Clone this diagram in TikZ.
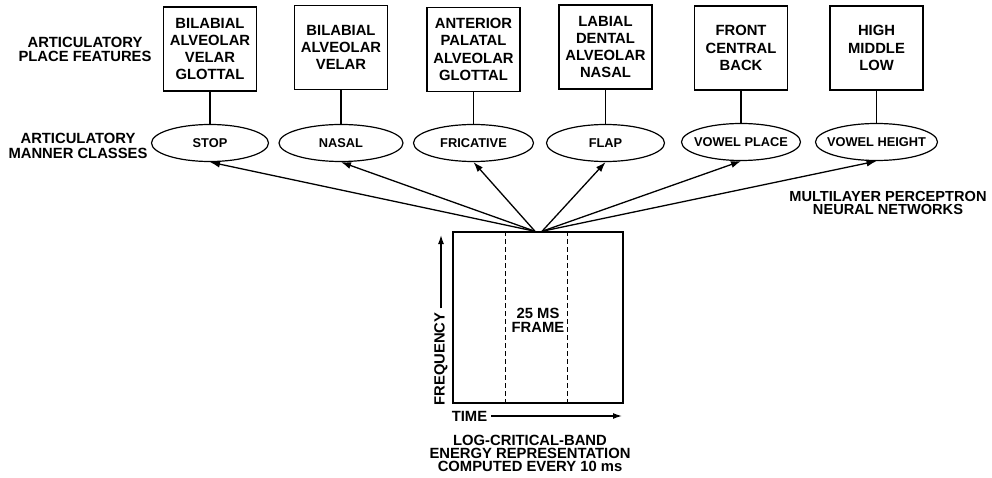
\documentclass[tikz,border=0pt]{standalone}
\usepackage{fontspec}
\setmainfont{Liberation Sans}
\usetikzlibrary{shapes.geometric,arrows.meta}
\newcommand\mk[1]{\makebox[0pt]{#1}}
\begin{document}
\begin{tikzpicture}[x=1pt,y=-1pt,
  lbl/.style={font=\bfseries\fontsize{14.8}{14}\selectfont, align=center, inner sep=0pt},
  featbox/.style={draw, line width=1.4pt, minimum width=93pt, minimum height=84pt,
    font=\bfseries\fontsize{14.8}{17.3}\selectfont, align=center, inner sep=0pt},
  manner/.style={draw, ellipse, line width=1.2pt, minimum height=37pt, inner sep=0pt,
    font=\bfseries\fontsize{12.8}{14}\selectfont},
  link/.style={line width=1.6pt},
  arr/.style={line width=1.3pt, -{Latex[length=10pt,width=7pt]}},
]
\useasboundingbox (0,0) rectangle (992,478);

% place feature boxes
\node[featbox] (b1) at (210,49)   {BILABIAL\\ALVEOLAR\\VELAR\\GLOTTAL};
\node[featbox] (b2) at (341,47.5) {BILABIAL\\ALVEOLAR\\VELAR};
\node[featbox] (b3) at (473.5,49.5) {ANTERIOR\\PALATAL\\ALVEOLAR\\GLOTTAL};
\node[featbox] (b4) at (605.5,47) {LABIAL\\DENTAL\\ALVEOLAR\\NASAL};
\node[featbox] (b5) at (741,48)   {FRONT\\CENTRAL\\BACK};
\node[featbox] (b6) at (876.5,48) {HIGH\\MIDDLE\\LOW};

% manner class ellipses
\node[manner, minimum width=117pt] (e1) at (210,143)   {\mk{STOP}};
\node[manner, minimum width=124pt] (e2) at (341,143)   {\mk{NASAL}};
\node[manner, minimum width=120pt] (e3) at (473.5,143) {\mk{FRICATIVE}};
\node[manner, minimum width=118pt] (e4) at (605.5,143) {\mk{FLAP}};
\node[manner, minimum width=119pt] (e5) at (741,142)   {\mk{VOWEL PLACE}};
\node[manner, minimum width=122pt] (e6) at (876.5,142) {\mk{VOWEL HEIGHT}};

\foreach \i in {1,...,6} \draw[link] (b\i.south) -- (e\i.north);

% labels
\node[lbl] (place) at (85,49) {ARTICULATORY\\PLACE FEATURES};
\node[lbl, font=\bfseries\fontsize{14.8}{15}\selectfont] (mannerlbl) at (78,145.5) {ARTICULATORY\\MANNER CLASSES};
\node[lbl, font=\bfseries\fontsize{14.6}{13}\selectfont] (mlp) at (888,203) {MULTILAYER PERCEPTRON\\NEURAL NETWORKS};

% spectrogram
\node[draw, line width=1.4pt, minimum width=170pt, minimum height=171pt, inner sep=0pt] (spec) at (538,317.5) {};
\draw[line width=1.3pt, dash pattern=on 5pt off 3pt] ([xshift=53pt]spec.north west) -- ([xshift=53pt]spec.south west);
\draw[line width=1.3pt, dash pattern=on 5pt off 3pt] ([xshift=115pt]spec.north west) -- ([xshift=115pt]spec.south west);
\node[lbl, font=\bfseries\fontsize{14.8}{14}\selectfont] (frame) at (538,320) {25 MS\\FRAME};

\coordinate (oL) at ([xshift=-3pt]spec.north);
\coordinate (oR) at ([xshift=4pt]spec.north);
\foreach \i in {1,2,3} \draw[arr] (oL) -- (e\i.south);
\foreach \i in {4,5,6} \draw[arr] (oR) -- (e\i.south);

% axes
\node[lbl, rotate=90] (freq) at (441,359) {FREQUENCY};
\coordinate (ftip) at (441,235);
\draw[line width=1.3pt, -{Latex[length=9pt,width=6pt]}, shorten <=4pt] (freq.east) -- (ftip);
\node[lbl] (time) at (469.5,416) {TIME};
\coordinate (ttip) at (622,416);
\draw[line width=1.3pt, -{Latex[length=9pt,width=6pt]}, shorten <=4pt] (time.east) -- (ttip);

\node[lbl, font=\bfseries\fontsize{14.8}{13}\selectfont] (cap) at (530,453) {LOG-CRITICAL-BAND\\ENERGY REPRESENTATION\\COMPUTED EVERY 10 ms};
\end{tikzpicture}
\end{document}
